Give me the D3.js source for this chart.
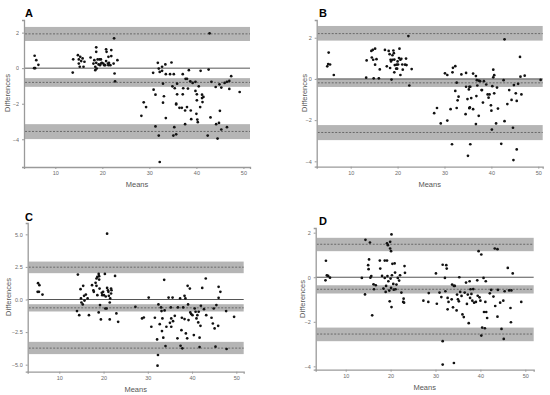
<!DOCTYPE html>
<html>
<head>
<meta charset="utf-8">
<script src="https://cdn.jsdelivr.net/npm/d3@7"></script>
<style>
  body { margin: 0; background: #fff; }
  svg { display: block; font-family: "Liberation Sans", Arial, sans-serif; }
  text { opacity: 0.99; }
</style>
</head>
<body>
<svg id="chart" width="550" height="395"></svg>
<script>
// ---- data (means, differences) ----
var aPoints = [
  [5.6,0.7],[5.95,0.45],[6.4,0.19],[5.5,0],[5.7,0],[13.7,-0.25],[13.8,0.5],[14.8,0.73],[15.3,0.64],[15,0.49],
  [15.5,0.4],[15,0.26],[15.2,0.08],[15.8,0.55],[16.2,0.36],[16,0.08],[17.5,0.6],[18.3,0.45],[18.1,0.26],[18.7,0.3],
  [18.7,1.17],[18.7,0.92],[19,0.49],[19.4,0.49],[19.7,0.49],[19.2,0.21],[18.5,0.08],[18.5,-0.11],[18.8,-0.02],[19.9,0.3],
  [20.2,0.26],[20.4,0.17],[20.8,0.4],[20.8,1.06],[20.9,0.92],[21.2,0.26],[21.4,0.3],[21.7,0.17],[21.3,0.17],[20.6,0.17],
  [21.9,1.02],[21.3,0.64],[21.9,0.68],[22.4,0.26],[22.5,1.68],[22.6,-0.3],[22.7,-0.74],[23.2,0.45],[19.7,0.26],[19.5,0.17],
  [42.8,1.96],[30.8,-0.26],[31.8,0.3],[32,-0.02],[32.2,-0.21],[32.7,-0.15],[32.7,0.08],[33.4,0.21],[34.7,0.32],[35.2,-0.34],
  [32.9,-0.87],[33.5,-0.34],[34.4,-0.34],[34.9,-1.02],[37.1,-0.34],[37.7,-0.6],[38,-0.6],[38.4,-0.11],[38.7,-0.74],[39.2,-0.83],
  [39.8,-0.77],[40.5,-1.02],[40.9,-0.15],[42.6,-0.08],[43.2,-0.77],[30.9,-1.21],[31.3,-1.49],[33.1,-1.58],[35.4,-1.13],[37.2,-1.13],
  [38.2,-1.15],[39.8,-1.28],[37.1,-1.47],[35.9,-1.47],[35.7,-2],[35.7,-2.04],[36.4,-2.23],[36.9,-2.23],[38,-2.19],[38.8,-2.38],
  [37.6,-2.38],[40.1,-1.47],[40.1,-1.81],[40.8,-2.19],[41.2,-1.49],[41.5,-1.62],[41.3,-1.91],[41.2,-1.68],[28.8,-1.92],[29.3,-2.19],
  [28.3,-2.68],[32.9,-1.94],[33.5,-2.81],[40,-2.57],[40.2,-2.89],[40.3,-3.04],[38.9,-2.87],[43,-2.77],[31.3,-3.28],[32,-3.79],
  [35.3,-3.32],[35.1,-3.79],[35.7,-3.72],[37.6,-3.15],[44.2,-3.15],[44.8,-3.08],[45.3,-3.45],[45,-2.4],[46.5,-3.32],[42.4,-3.79],
  [44.5,-3.96],[32.2,-5.28],[44.1,-1.06],[44.9,-0.91],[45.3,-1.09],[46,-0.83],[46.5,-0.77],[47,-0.72],[47.4,-0.45],[47,-1.17],
  [49.2,-1.34],[35.9,-0.87]
];
var bPoints = [
  [5.3,1.28],[5,0.61],[5.2,0.72],[5.6,0.7],[6.4,0.19],[13.4,0.9],[13.3,0.06],[14.4,1.36],[14.7,1.41],[15.2,1.47],
  [14.5,1.04],[14.8,0.93],[15.2,0.69],[15.5,0.96],[14.9,0.03],[16,0.03],[16.2,0.46],[17.3,1.41],[17.7,0.61],[18.1,1.36],
  [18.3,1.2],[18.4,0.53],[18.5,0.93],[18.6,0.85],[18.9,0.93],[19.1,1.38],[19.2,1.25],[19.3,0.94],[19.4,0.67],[19.3,0.32],
  [18.7,-0.03],[19.7,0.5],[19.9,0.5],[20,0.85],[20.1,0.7],[20.3,1.01],[20.4,1.47],[20.6,0.93],[20.8,0.98],[20.6,0.19],
  [21,0.7],[21.1,0.45],[21.8,0.99],[21.9,0.67],[21.6,0.69],[22.3,2.08],[22.5,-0.32],[23,0.48],[19.8,0.69],[18.9,1.15],
  [42.8,1.92],[46.1,1.07],[27.8,-1.66],[28.4,-1.41],[29.2,-2.16],[30.6,-2.02],[30.1,0.27],[30.6,0.19],[31.3,-1.47],[31.8,0.54],
  [31.7,0.32],[32.3,0.62],[32.3,-0.58],[32.6,-0.18],[32.6,-1.41],[32.8,-1.04],[33,-0.86],[31.6,-3.17],[33.6,0.22],[34.6,0.29],
  [34.5,-1.71],[34.6,-0.38],[34.9,-0.98],[35.3,-0.38],[35.2,-0.51],[35.3,-1.42],[35.4,-1.38],[35.5,-0.38],[35.7,-0.93],[35.5,-3.17],
  [35,-3.73],[36.1,0.26],[36.7,0.14],[36.9,-0.06],[37,-0.32],[36.8,-0.83],[36.7,-2.19],[37.3,-1.79],[37.3,-0.08],[37.6,-0.11],
  [37.9,-0.54],[38.2,-1.15],[38,-0.54],[38.4,-0.11],[38.9,-0.27],[39.2,-0.75],[39.4,-0.91],[39.6,-0.75],[39.9,-1.28],[40,-1.54],
  [40.2,-0.35],[40.4,0.45],[40.4,0.08],[40.6,0.18],[40.1,-2.46],[40.6,-0.7],[41,-2.16],[41.2,-0.42],[41.4,-1.44],[42.1,-3.15],
  [42.6,-0.06],[42.8,-2.05],[43.4,-1.22],[43.8,-0.54],[44.3,-1.02],[44.6,-2.37],[44.8,-0.3],[45.2,-0.7],[45.4,-1.07],[45.7,-0.24],
  [46.2,0.11],[46.4,-0.75],[47.1,0.16],[45.4,-3.42],[44.7,-3.94],[50.5,-0.05],[36.1,-1.47]
];
var cPoints = [
  [5.2,1.25],[5.5,1.1],[5.1,0.59],[5.4,0.59],[6.2,0.38],[14.2,1.91],[14,-0.89],[14.5,-1.2],[14.8,0.79],[14.9,0.08],
  [15,-0.23],[15.3,-0.38],[15.4,1.05],[15.6,0.28],[15.7,-0.08],[16,0.38],[16.4,0.08],[16.7,-1.2],[17.4,1.1],[17.7,0.71],
  [17.8,0.59],[18.2,1.28],[18.4,1.61],[18.6,1.73],[18.4,1.05],[18.6,0.33],[18.9,1.96],[19,1.79],[19,1.53],[19.1,0.84],
  [18.9,-0.99],[19.2,-0.43],[19.4,-1.53],[19.6,0.51],[19.7,0.33],[19.9,0.59],[20.1,0.33],[20.3,1.96],[20.5,0.23],[20.4,-0.69],
  [20.8,5.05],[20.8,0.89],[21,0.71],[21.2,0.28],[21.4,-0.23],[21.5,0.08],[21.7,0.46],[21.7,0.84],[21.8,0.71],[21.4,-1.53],
  [22.6,1.81],[22.9,-1.07],[23.3,-1.71],[21.1,0.59],[20.7,-0.69],
  [27.2,-0.56],[28.7,-1.45],[29.1,-1.38],[30.2,0.15],[30.8,-2.09],[31.6,-1.4],[32.1,-3.06],[32.3,-4.26],[32.2,-5.08],[32.4,-0.38],
  [32.7,-1.89],[33,-0.61],[33.1,-0.89],[33.2,-2.42],[33.3,-1.45],[33.5,-2.93],[33.7,1.51],[33.8,-0.84],[34,-3.57],[34.2,-2.09],
  [34.7,0.15],[35,-1.79],[35.2,-0.61],[35.3,-1.45],[35.3,-2.09],[35.6,0.15],[35.7,-1.66],[36.1,-1.25],[36.7,-2.98],[36.8,-0.61],
  [37.3,0.08],[37.4,-3.55],[37.6,-2.35],[37.7,-1.4],[37.8,-3.75],[38,-0.61],[38.3,0.28],[38.3,-1.5],[38.6,-2.6],[38.9,-2.98],
  [39,1.05],[39.1,-0.38],[39.2,-1.58],[39.5,0.84],[39.6,-0.99],[39.8,-1.12],[40.1,-1.2],[40.4,-2.73],[40.6,-0.69],[40.8,-0.94],
  [41,-1.45],[41.2,-1.2],[41.4,-1.76],[41.7,-3.65],[41.7,-2.93],[41.9,-2.02],[42,-0.48],[42.3,0.89],[42.7,-0.74],[43.1,1.61],
  [43.2,-1.2],[44.4,-1.4],[44.7,-1.84],[44.9,-0.69],[45.1,-2.22],[45.3,-3.62],[45.5,-0.43],[45.9,-2.02],[46,0.97],[46,0.13],
  [46.4,0.59],[47.7,-0.89],[47.8,-3.8],[49.5,-1.33],[38.5,0.08],[41.5,-0.94]
];
var dPoints = [
  [5.6,0.74],[5.5,-0.14],[5.8,0.08],[6.1,0.06],[6.5,-0.02],[13.6,-0.03],[14.3,-0.77],[14.4,1.68],[15,0.54],[15.1,0.36],
  [15.2,0.8],[15.4,1.56],[15.5,-0.02],[15.7,0.05],[15.9,-1.71],[16.2,-0.32],[16.3,-0.54],[16.7,-0.36],[17.6,0.75],[17.7,0.39],
  [18.1,0.06],[18.4,-0.51],[18.7,0.75],[18.7,-0.03],[18.9,-0.66],[19,-0.39],[19.2,0.75],[19.2,1.52],[19.4,1.44],[19.3,0.05],
  [19.5,-0.18],[19.7,-0.6],[19.8,-1.08],[19.9,1.59],[19.9,1.29],[20,-0.06],[20.1,-0.48],[20.1,1.17],[20.2,-1.34],[20.2,1.92],
  [20.3,0.09],[20.4,0.6],[20.6,-0.3],[20.7,-0.56],[20.9,0.62],[21,0.21],[21.1,-0.54],[21.6,-0.03],[21.9,-0.15],[22.1,0.09],
  [22.4,-0.69],[22.9,-0.96],[22.8,-1.11],[23,-1.14],[23.1,0.5],[23.2,0.2],[21.3,-0.33],
  [27.3,-1.05],[28.4,-1.11],[28.5,-0.71],[30.1,0.17],[30.3,-1.19],[30.9,-0.69],[31.3,-0.89],[31.6,0.56],[31.6,-2.87],[31.6,-3.92],
  [32.1,-0.03],[32.2,-0.63],[32.4,0.54],[32.5,0.39],[32.7,-0.93],[32.7,-1.44],[32.9,-1.11],[33.6,-0.99],[33.7,-0.33],[33.9,-1.35],
  [34.1,-0.39],[34.3,-0.39],[34.1,-3.85],[34.7,-1.49],[34.8,-0.78],[35,-0.99],[35.2,-1.08],[35.3,0],[35.5,-0.66],[35.8,-0.84],
  [36,-1.67],[36.3,-1.79],[36.5,-0.69],[36.8,-0.24],[37,-1.2],[37.2,-0.78],[37.4,-2.06],[37.6,-0.18],[37.8,-0.54],[37.7,-0.93],
  [38,-0.75],[38.2,-1.05],[38.4,-0.53],[38.6,-1.14],[39,-1.11],[39.3,-0.14],[39.4,-0.83],[39.6,1.17],[39.8,-0.9],[40,-1.05],
  [40.2,1.02],[40.2,-2.62],[40.4,-2.26],[40.7,-0.03],[40.8,-1.56],[41,-2.29],[41.1,-1.11],[41.2,-0.18],[41.3,-1.56],[41.5,-1.83],
  [42.1,-0.72],[42.4,-0.57],[42.9,-0.87],[43.2,1.29],[43.3,-1.29],[43.8,1.26],[43.8,-1.77],[43.9,-0.57],[44.4,-1.14],[44.7,-2.32],
  [45.1,-1.05],[45.2,-2.77],[45.4,-0.63],[46.1,0.42],[46.4,-0.59],[46.7,-1.38],[46.8,-2.02],[46.9,-0.59],[47.2,0.17],[49.1,-1.11]
];

// limits of agreement: dashed centre line and confidence band (upper, bias, lower)
var aLines = [1.93, -0.8, -3.56], aBandLo = [1.53, -1.05, -3.99], aBandHi = [2.32, -0.56, -3.15];
var bLines = [2.2, -0.19, -2.6],  bBandLo = [1.86, -0.39, -2.97], bBandHi = [2.57, 0.0, -2.24];
var cLines = [2.48, -0.64, -3.73], cBandLo = [2.02, -0.92, -4.19], cBandHi = [2.91, -0.36, -3.25];
var dLines = [1.48, -0.54, -2.55], dBandLo = [1.17, -0.73, -2.87], dBandHi = [1.77, -0.36, -2.26];

var xTicks = [10, 20, 30, 40, 50];
var yTicksABD = [2, 0, -2, -4];
var yTicksC = [5.0, 2.5, 0.0, -2.5, -5.0];
var panelLetters = ["A", "B", "C", "D"];

// ---- layout: pixel box + matching value extent per panel ----
var panels = [
  {letter: panelLetters[0], pts: aPoints, lines: aLines, lo: aBandLo, hi: aBandHi, yTicks: yTicksABD, fmt: d3.format("d"),
   box: [24, 250, 20, 167], xd: [3.34, 51.4], yd: [-5.56, 2.71], lab: [25, 17], yLab: [7, 93]},
  {letter: panelLetters[1], pts: bPoints, lines: bLines, lo: bBandLo, hi: bBandHi, yTicks: yTicksABD, fmt: d3.format("d"),
   box: [316.7, 542.7, 20, 166.7], xd: [2.75, 50.94], yd: [-4.26, 2.86], lab: [319, 17], yLab: [304, 93]},
  {letter: panelLetters[2], pts: cPoints, lines: cLines, lo: cBandLo, hi: cBandHi, yTicks: yTicksC, fmt: d3.format(".1f"),
   box: [27.7, 243.7, 223, 371.7], xd: [2.86, 51.67], yd: [-5.54, 5.87], lab: [25, 221], yLab: [8, 297]},
  {letter: panelLetters[3], pts: dPoints, lines: dLines, lo: dBandLo, hi: dBandHi, yTicks: yTicksABD, fmt: d3.format("d"),
   box: [315.7, 533.7, 228, 369.7], xd: [3.32, 51.87], yd: [-4.15, 2.21], lab: [319, 225], yLab: [302, 299]}
];

var svg = d3.select("#chart");

panels.forEach(function(p) {
    var x = d3.scaleLinear().domain(p.xd).range([p.box[0], p.box[1]]);
    var y = d3.scaleLinear().domain(p.yd).range([p.box[3], p.box[2]]);
    var g = svg.append("g");

    //confidence bands
    g.selectAll("rect.band").data(p.lines).enter().append("rect")
        .attr("x", x(p.xd[0]) + 1)
        .attr("width", x(p.xd[1]) - x(p.xd[0]) - 1)
        .attr("y", function(d, i) { return y(p.hi[i]); })
        .attr("height", function(d, i) { return y(p.lo[i]) - y(p.hi[i]); })
        .style("fill", "#b5b5b5");

    //zero line
    g.append("line")
        .attr("x1", x(p.xd[0])).attr("x2", x(p.xd[1]))
        .attr("y1", y(0)).attr("y2", y(0))
        .style("stroke", "#555").style("stroke-width", 1);

    //dashed limit lines
    g.selectAll("line.lim").data(p.lines).enter().append("line")
        .attr("x1", x(p.xd[0]) + 1).attr("x2", x(p.xd[1]))
        .attr("y1", function(d) { return y(d); })
        .attr("y2", function(d) { return y(d); })
        .style("stroke", "#555").style("stroke-width", 0.8)
        .style("stroke-dasharray", "2,1.5");

    //axes
    var xAxis = d3.axisBottom(x).tickValues(xTicks).tickSize(2).tickPadding(2);
    var yAxis = d3.axisLeft(y).tickValues(p.yTicks).tickSize(2).tickPadding(3).tickFormat(p.fmt);

    var gx = g.append("g").attr("transform", "translate(0," + p.box[3] + ")").call(xAxis);
    var gy = g.append("g").attr("transform", "translate(" + p.box[0] + ",0)").call(yAxis);
    [gx, gy].forEach(function(a) {
        a.select(".domain").style("stroke", "#9a9a9a").style("stroke-width", 1.3);
        a.selectAll(".tick line").style("stroke", "#9a9a9a");
        a.selectAll(".tick text").style("fill", "#6a6a6a").style("font-size", "5.5px");
    });

    //points
    g.selectAll("circle").data(p.pts).enter().append("circle")
        .attr("cx", function(d) { return x(d[0]); })
        .attr("cy", function(d) { return y(d[1]); })
        .attr("r", 1.35)
        .style("fill", "#111");

    //titles
    g.append("text")
        .attr("x", (p.box[0] + p.box[1]) / 2).attr("y", p.box[3] + 20)
        .attr("text-anchor", "middle")
        .style("font-size", "7.5px").style("fill", "#555")
        .text("Means");

    g.append("text")
        .attr("transform", "translate(" + p.yLab[0] + "," + p.yLab[1] + ") rotate(-90)")
        .attr("text-anchor", "middle").attr("dy", "0.35em")
        .style("font-size", "7.5px").style("fill", "#555")
        .text("Differences");

    g.append("text")
        .attr("x", p.lab[0]).attr("y", p.lab[1])
        .style("font-size", "11px").style("font-weight", "bold").style("fill", "#000")
        .text(p.letter);
});
</script>
</body>
</html>
